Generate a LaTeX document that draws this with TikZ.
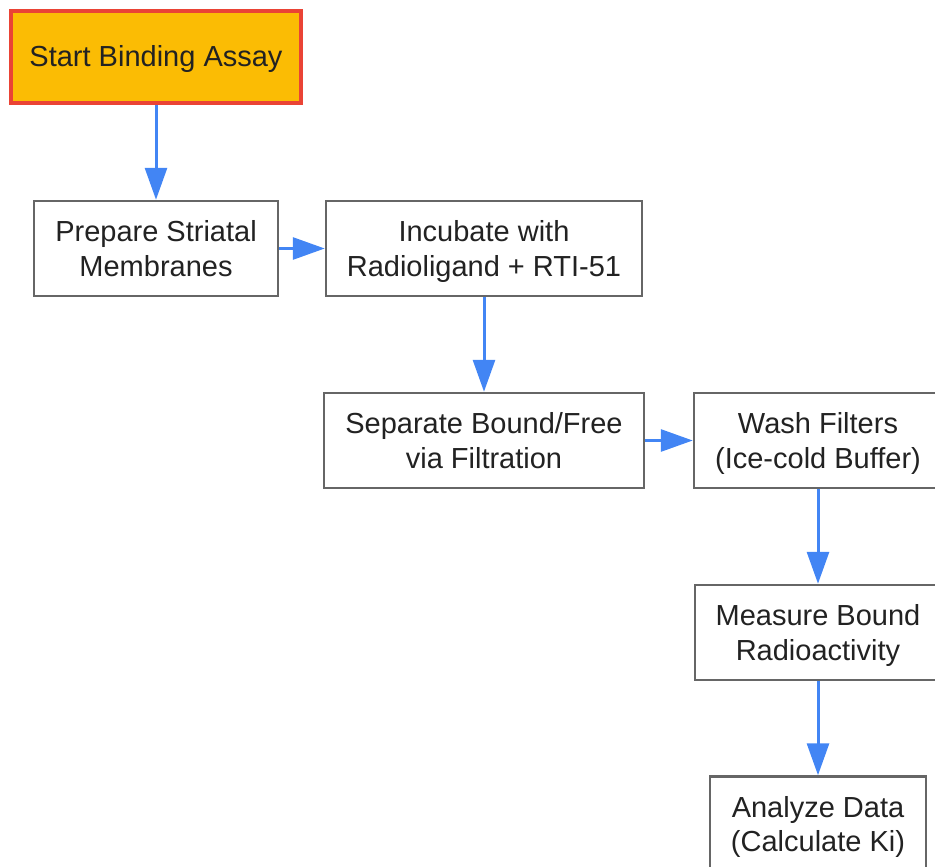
\documentclass[tikz,border=0pt]{standalone}
\usepackage{fontspec}
\setmainfont{Liberation Sans}
\usetikzlibrary{arrows.meta}

\definecolor{flowblue}{HTML}{4285F4}
\definecolor{startfill}{HTML}{FBBC04}
\definecolor{startedge}{HTML}{EA4335}
\definecolor{boxedge}{HTML}{666666}
\definecolor{txt}{HTML}{222222}

\tikzset{
	stepbox/.style={draw=boxedge, line width=2.5pt, fill=white, align=center,
		text=txt, font=\fontsize{29}{34.5}\selectfont, inner sep=0pt,
		text height=55pt, text depth=0pt},
	startbox/.style={stepbox, draw=startedge, line width=4pt, fill=startfill,
		text height=19.5pt},
	flow/.style={flowblue, line width=3pt, -{Triangle[length=32pt,width=22pt]}}
}

\begin{document}
\begin{tikzpicture}[x=1pt,y=-1pt,>=Latex]
	
	% --- Frame
	\useasboundingbox (0,0) rectangle (935,867);
	\clip (0,0) rectangle (935,867);
	
	% --- Steps
	\node[startbox, minimum width=290pt, minimum height=92pt] (start) at (156,57) {Start Binding Assay};
	\node[stepbox, minimum width=244pt, minimum height=95pt] (prep) at (156,248.5) {Prepare Striatal\\Membranes};
	\node[stepbox, minimum width=316pt, minimum height=95pt] (incub) at (484,248.5) {Incubate with\\Radioligand + RTI-51};
	\node[stepbox, minimum width=320pt, minimum height=95pt] (sep) at (484,440.5) {Separate Bound/Free\\via Filtration};
	\node[stepbox, minimum width=248pt, minimum height=95pt] (wash) at (818,440.5) {Wash Filters\\(Ice-cold Buffer)};
	\node[stepbox, minimum width=246pt, minimum height=95pt] (meas) at (818,632.5) {Measure Bound\\Radioactivity};
	\node[stepbox, minimum width=216pt, minimum height=95pt] (anal) at (818,824) {Analyze Data\\(Calculate Ki)};
	
	% --- Connectors
	\draw[flow] (start) -- (prep);
	\draw[flow] (prep) -- (incub);
	\draw[flow] (incub) -- (sep);
	\draw[flow] (sep) -- (wash);
	\draw[flow] (wash) -- (meas);
	\draw[flow] (meas) -- (anal);
	
\end{tikzpicture}
\end{document}
